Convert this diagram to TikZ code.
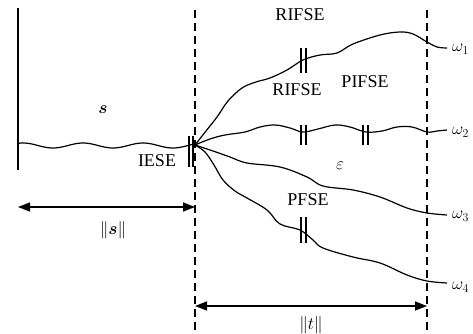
\documentclass[tikz,border=0pt]{standalone}
\usepackage{amsmath}
\usepackage{bm}
\usepackage{fontspec}
\setmainfont{Liberation Serif}
\usepackage{tikz}
\usetikzlibrary{arrows.meta}
\tikzset{
  traj/.style={line width=1.2pt, line join=round},
  border/.style={dash pattern=on 8pt off 5pt, line width=1.5pt},
  dbar/.style={line width=1.2pt},
  dimarr/.style={{Triangle[length=12pt,width=9pt]}-{Triangle[length=12pt,width=9pt]}, line width=1.5pt},
  lbl/.style={font=\fontsize{18}{20}\selectfont, inner sep=0pt},
}

\begin{document}
\begin{tikzpicture}[x=1pt, y=-1pt]
  \useasboundingbox (0,0) rectangle (473,334);
  % ── frame lines ─────────────────────────────────────────────
  \coordinate (start) at (18,145);
  \coordinate (fork) at (195,145);
  \draw[line width=1.2pt] (18,8) -- (18,170);
  \draw[border] (195,10) -- (195,334);
  \draw[border] (427,10) -- (427,334);
  % ── past trajectory s ───────────────────────────────────────
  \draw[traj] plot[domain=18:195, samples=80] (\x, {145.5+2.5*sin((\x-38)*6)});
  % ── future trajectories ─────────────────────────────────────
  \draw[traj] plot[smooth, tension=0.6] coordinates {(195,145) (206,131) (217,117) (228,101)
    (242,88) (256,82) (270,78) (287,70) (303,60) (320,55) (337,53) (353,44) (380,35)
    (400,32) (413,34) (427,42) (437,47) (447,48)} coordinate (w1);
  \draw[traj] plot[smooth, tension=0.6] coordinates {(195,145) (210,139) (225,135) (245,132)
    (260,127) (275,125) (290,128) (303,132) (318,129) (335,125) (350,127) (366,132)
    (382,131) (397,127) (412,127) (427,132) (437,131) (447,130)} coordinate (w2);
  \draw[traj] plot[smooth, tension=0.6] coordinates {(195,145) (213,151) (230,157) (247,163)
    (280,167) (307,177) (323,186) (353,190) (380,197) (407,208) (427,213) (447,215)} coordinate (w3);
  \draw[traj] plot[smooth, tension=0.6] coordinates {(195,145) (205,152) (214,165) (223,180)
    (235,191) (247,198) (267,210) (280,224) (300,230) (313,240) (323,248) (353,257)
    (380,263) (407,275) (427,281) (447,283)} coordinate (w4);
  % ── split marks ─────────────────────────────────────────────
  \draw[dbar] (189,136) -- (189,167) (193,136) -- (193,167);
  \foreach \xa/\ya/\yb in {301/48/73, 301/125/145, 363/125/145, 301/217/243}
    \draw[dbar] (\xa,\ya) -- (\xa,\yb) (\xa+5,\ya) -- (\xa+5,\yb);
  % ── labels ──────────────────────────────────────────────────
  \node[lbl] (slbl) at (103,110) {$\bm{s}$};
  \node[lbl] (iese) at (157,161) {IESE};
  \node[lbl] (rifse1) at (300,15) {RIFSE};
  \node[lbl] (rifse2) at (297,90) {RIFSE};
  \node[lbl] (pifse) at (365,82) {PIFSE};
  \node[lbl] (eps) at (340,166) {$\varepsilon$};
  \node[lbl] (pfse) at (308,200) {PFSE};
  \node[lbl, anchor=west] (om1) at (452,49) {$\omega_1$};
  \node[lbl, anchor=west] (om2) at (452,132) {$\omega_2$};
  \node[lbl, anchor=west] (om3) at (452,216) {$\omega_3$};
  \node[lbl, anchor=west] (om4) at (452,287) {$\omega_4$};
  % ── extents ─────────────────────────────────────────────────
  \coordinate (sl) at (18,207);
  \coordinate (sr) at (195,207);
  \coordinate (tl) at (195,306);
  \coordinate (tr) at (427,306);
  \draw[dimarr] (sl) -- (sr);
  \draw[dimarr] (tl) -- (tr);
  \node[lbl] (snorm) at (113,230) {$\|\bm{s}\|$};
  \node[lbl] (tnorm) at (311,325) {$\|t\|$};
\end{tikzpicture}
\end{document}
